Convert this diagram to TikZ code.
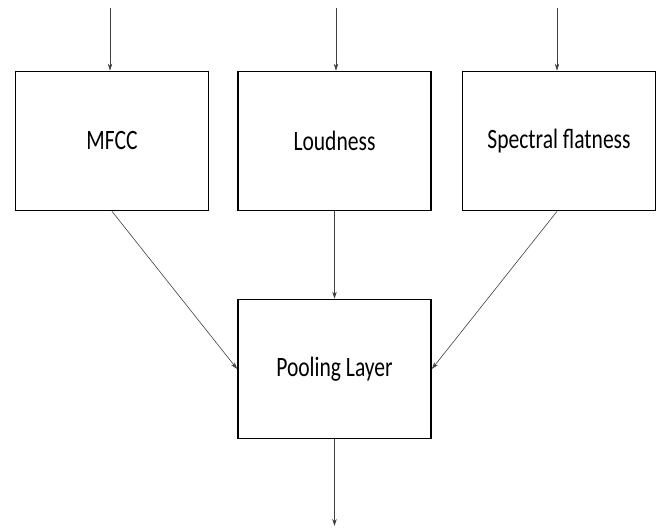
\documentclass[tikz,border=0pt]{standalone}
\usepackage{fontspec}
\setmainfont{Carlito}[FakeStretch=0.77]
\usetikzlibrary{arrows.meta}
\begin{document}
\begin{tikzpicture}[x=1pt,y=-1pt,
  blk/.style={draw=black,line width=1.7pt,minimum width=193pt,minimum height=139pt,inner sep=0pt,
    font=\fontsize{28}{32}\selectfont},
  arr/.style={draw=black!75,line width=0.6pt,-{Stealth[length=7pt,width=4.5pt]}}]
\useasboundingbox (0,0) rectangle (663,527);
\node[blk] (m) at (112,141) {MFCC};
\node[blk] (l) at (334.5,141) {Loudness};
\node[blk] (s) at (559,141) {Spectral flatness};
\node[blk] (p) at (334.5,369) {Pooling Layer};
\coordinate (t1) at (110,8);
\coordinate (t2) at (336,8);
\coordinate (t3) at (557,8);
\coordinate (b) at (334.5,526);
\draw[arr] (t1) -- (t1 |- m.north);
\draw[arr] (t2) -- (t2 |- l.north);
\draw[arr] (t3) -- (t3 |- s.north);
\draw[arr] (m.south) -- (p.west);
\draw[arr] (l.south) -- (p.north);
\draw[arr] ([xshift=-2pt]s.south) -- (p.east);
\draw[arr] (p.south) -- (b);
\end{tikzpicture}
\end{document}
